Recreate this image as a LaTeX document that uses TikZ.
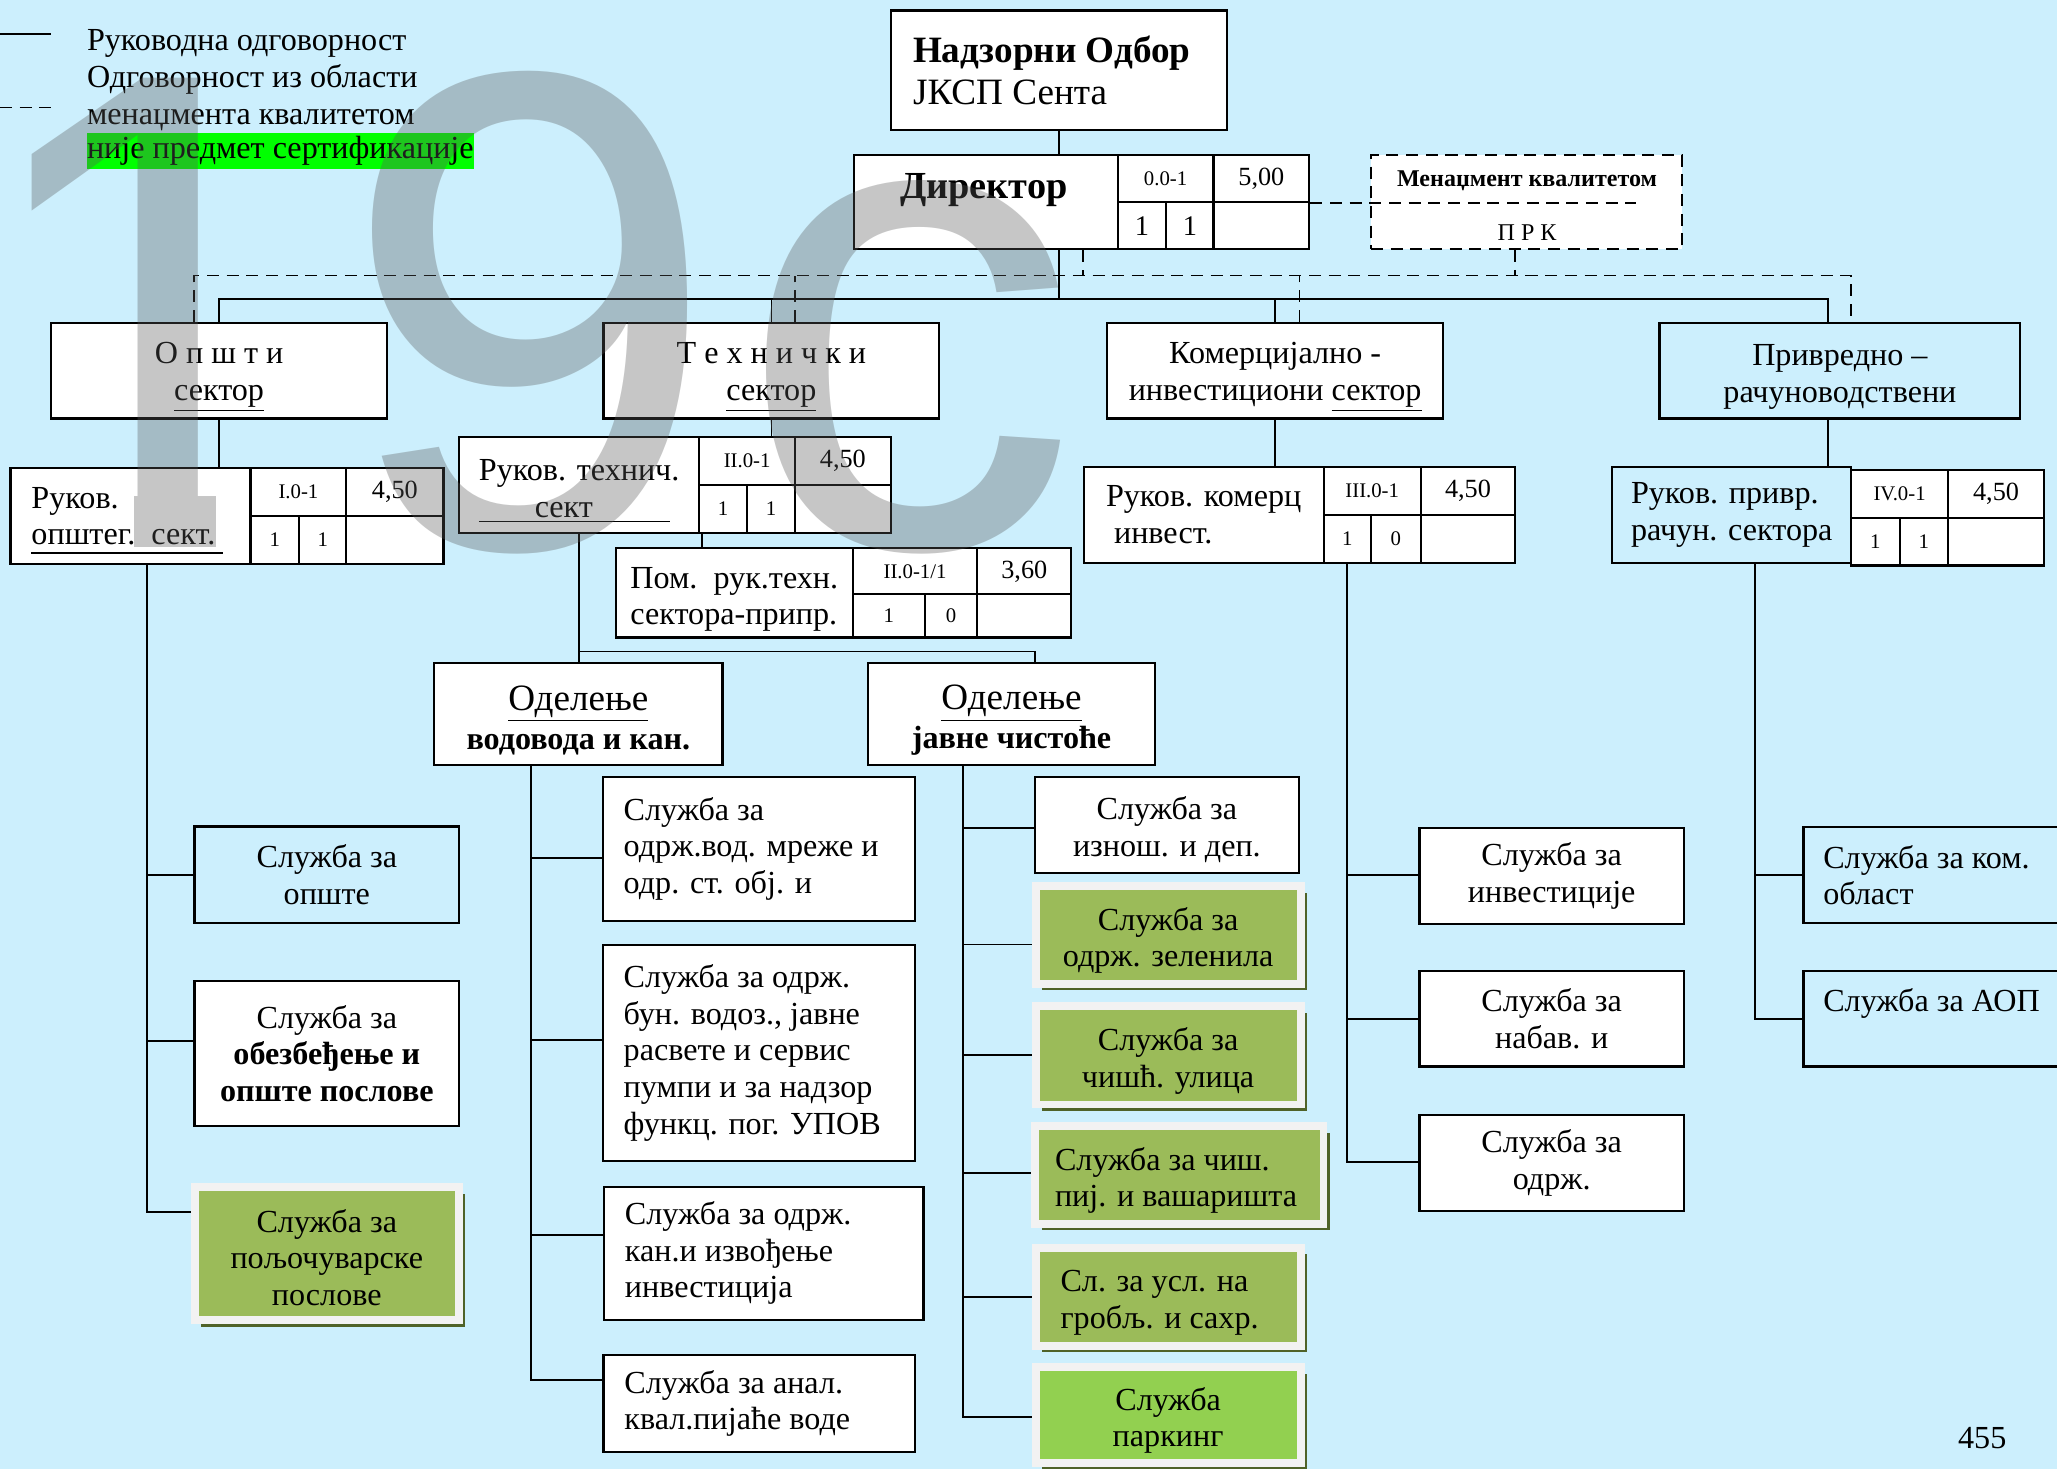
\documentclass[tikz,border=0pt]{standalone}
\usepackage{fontspec}
\setmainfont{Liberation Serif}
\newfontfamily\wmfamily{Liberation Sans}
\usetikzlibrary{shadows}
\definecolor{pagebg}{RGB}{204,239,253}
\definecolor{hlgreen}{RGB}{0,255,0}
\definecolor{olivefill}{RGB}{155,187,89}
\definecolor{limefill}{RGB}{146,208,80}
\definecolor{bevelgray}{RGB}{242,242,242}
\definecolor{shadowolive}{RGB}{79,98,40}
\newcommand\txtsz{\fontsize{14.7}{16.8}\selectfont}
\newcommand\hdsz{\fontsize{17}{19.2}\selectfont}
\newcommand\dirsz{\fontsize{17.5}{20}\selectfont}
\newcommand\cellsz{\fontsize{9.5}{11}\selectfont}
\newcommand\numsz{\fontsize{12}{14}\selectfont}
\newcommand\dirnum{\fontsize{13}{15}\selectfont}
\newcommand\qmsz{\fontsize{11}{13}\selectfont}
\newcommand\wmsz{\wmfamily\fontsize{312}{312}\selectfont}
\newcommand\tps{\rule{0pt}{15.5pt}}

\begin{document}
\begin{tikzpicture}[x=0.6pt,y=0.6pt,yscale=-1,xscale=1,
	bw/.style={minimum width=#1*0.6pt},
	bh/.style={minimum height=#1*0.6pt},
	box/.style={draw=black,line width=1pt,fill=white,inner sep=0pt,font=\txtsz,align=flush center},
	bluebox/.style={box,fill=pagebg},
	leftbox/.style={box,align=flush left},
	cell/.style={draw=black,line width=1pt,fill=white,inner sep=0pt,font=\cellsz},
	numcell/.style={cell,font=\numsz},
	greenbox/.style={box,fill=olivefill,draw=bevelgray,line width=3.6pt,drop shadow={shadow xshift=3pt,shadow yshift=-3pt,fill=shadowolive,opacity=1}},
	conn/.style={line width=0.8pt},
	dq/.style={line width=0.8pt,dash pattern=on 5.5pt off 3.5pt},
	wm/.style={inner sep=0pt,font=\wmsz,text=black!65,text opacity=0.34}]
		\useasboundingbox (0,0) rectangle (1568,1120);
		\fill[pagebg] (0,0) rectangle (1568,1120);

		%Straight Lines (legend)
		\draw[conn] (0,26) -- (39,26) ;
		\draw[dq] (0,82) -- (39,82) ;
		% Text Node
		\node[anchor=west,inner sep=0pt,align=flush left,font=\txtsz] (leg) at (66,61) {Руководна одговорност\\Одговорност из области\\менаџмента квалитетом};
		\node[anchor=west,inner xsep=0pt,inner ysep=0pt,minimum height=28*0.6pt,fill=hlgreen,font=\txtsz] (legcert) at (66,115) {није предмет сертификације};

		%Shape: Rectangle (top)
		\node[box,bw=256,bh=91,align=flush left,text width=133.2pt,inner xsep=10.2pt,font=\hdsz] (nadz) at (807,53.5) {\textbf{Надзорни Одбор}\\ЈКСП Сента};
		\node[box,bw=201,bh=72] (dirm) at (751.5,154) {};
		\node[inner sep=0pt,font=\dirsz\bfseries] (dirlbl) at (750,145) {Директор};
		\node[cell,bw=73,bh=36] (dc1) at (888.5,136) {0.0-1};
		\node[numcell,bw=73,bh=36] (dc2) at (961.5,136) {5,00};
		\node[cell,bw=37,bh=36,font=\dirnum] (dc3) at (870.5,172) {1};
		\node[cell,bw=36,bh=36,font=\dirnum] (dc4) at (907,172) {1};
		\node[cell,bw=73,bh=36] (dc5) at (961.5,172) {};
		\node[box,dq,bw=237,bh=72] (prk) at (1163.5,154) {};
		\node[inner sep=0pt,font=\qmsz\bfseries] (prkhd) at (1164,138) {Менаџмент квалитетом};
		\node[inner sep=0pt,font=\qmsz] (prklb) at (1164,177) {П Р К};

		%Shape: Rectangle (sectors)
		\node[box,bw=256,bh=73] (opsti) at (167,282.5) {\tps О п ш т и\\\underline{сектор}};
		\node[box,bw=256,bh=73] (tehn) at (588,282.5) {\tps Т е х н и ч к и\\\underline{сектор}};
		\node[box,bw=256,bh=73] (kom) at (972,282.5) {\tps Комерцијално -\\инвестициони \underline{сектор}};
		\node[bluebox,bw=275,bh=73] (privr) at (1402.5,282.5) {\tps Привредно –\\рачуноводствени};

		%Shape: Rectangle (heads)
		\node[leftbox,bw=183,bh=73,text width=90.6pt,inner xsep=9.6pt] (rukop) at (99.5,393.5) {Руков.\\општег.\ \ сект.};
		\node[cell,bw=73,bh=36.4] (op1) at (227.5,375.2) {I.0-1};
		\node[numcell,bw=74,bh=36.4] (op2) at (301,375.2) {4,50};
		\node[cell,bw=37,bh=36.6] (op3) at (209.5,411.7) {1};
		\node[cell,bw=36,bh=36.6] (op4) at (246,411.7) {1};
		\node[cell,bw=74,bh=36.6] (op5) at (301,411.7) {};
		\draw[conn] (24,421.7) -- (170,421.7) ;

		\node[box,bw=183,bh=73] (rukt) at (441.5,369.5) {\rule{0pt}{13pt}Руков. технич.\\сект\hspace*{14pt}};
		\node[cell,bw=73,bh=37] (t1) at (569.5,351.5) {II.0-1};
		\node[numcell,bw=73,bh=37] (t2) at (642.5,351.5) {4,50};
		\node[cell,bw=36.5,bh=36] (t3) at (551.25,388) {1};
		\node[cell,bw=36.5,bh=36] (t4) at (587.75,388) {1};
		\node[cell,bw=73,bh=36] (t5) at (642.5,388) {};
		\draw[conn] (365,397.6) -- (511,397.6) ;

		\node[leftbox,bw=180.5,bh=68] (pom) at (559.75,452) {\tps Пом.\ \ рук.техн.\\сектора-припр.};
		\node[cell,bw=95,bh=35] (p1) at (697.5,435.5) {II.0-1/1};
		\node[numcell,bw=71.6,bh=35] (p2) at (780.8,435.5) {3,60};
		\node[cell,bw=55,bh=33] (p3) at (677.5,469.5) {1};
		\node[cell,bw=40,bh=33] (p4) at (725,469.5) {0};
		\node[cell,bw=71.6,bh=33] (p5) at (780.8,469.5) {};

		\node[leftbox,bw=183,bh=73] (rukk) at (917.5,392.5) {Руков. комерц\\\ инвест.};
		\node[cell,bw=74,bh=36.6] (k1) at (1046,374.3) {III.0-1};
		\node[numcell,bw=72,bh=36.6] (k2) at (1119,374.3) {4,50};
		\node[cell,bw=36,bh=36.4] (k3) at (1027,410.8) {1};
		\node[cell,bw=38,bh=36.4] (k4) at (1064,410.8) {0};
		\node[cell,bw=72,bh=36.4] (k5) at (1119,410.8) {};

		\node[bluebox,align=flush left,bw=182,bh=73] (rukpr) at (1320,392.5) {Руков. привр.\\рачун. сектора};
		\node[cell,bw=74,bh=37] (r1) at (1448,376.5) {IV.0-1};
		\node[numcell,bw=73,bh=37] (r2) at (1521.5,376.5) {4,50};
		\node[cell,bw=37,bh=36] (r3) at (1429.5,413) {1};
		\node[cell,bw=37,bh=36] (r4) at (1466.5,413) {1};
		\node[cell,bw=73,bh=36] (r5) at (1521.5,413) {};

		%Shape: Rectangle (departments)
		\node[box,bw=219.7,bh=77.4] (odvod) at (440.85,544.3) {{\hdsz\rule{0pt}{17pt}\underline{Оделење}}\\[1pt]\textbf{водовода и кан.}};
		\node[box,bw=218.9,bh=77.4] (odjav) at (771.05,544.3) {{\hdsz\rule{0pt}{17pt}\underline{Оделење}}\\[1pt]\textbf{јавне чистоће}};

		%Shape: Rectangle (services)
		\node[bluebox,bw=201.7,bh=73.7] (so1) at (249.15,666.85) {Служба за\\опште};
		\node[box,bw=201.7,bh=110] (so2) at (249.15,803) {Служба за\\\textbf{обезбеђење и}\\\textbf{опште послове}};
		\node[greenbox,bw=201.45,bh=101.5] (so3) at (249.1,955.75) {\rule{0pt}{14pt}Служба за\\пољочуварске\\послове};

		\node[leftbox,bw=238.2,bh=110,text width=123.7pt,inner xsep=9.6pt] (sv1) at (578.5,647) {Служба за\\одрж.вод. мреже и\\одр. ст. обј. и};
		\node[leftbox,bw=238.2,bh=164.3,text width=123.7pt,inner xsep=9.6pt] (sv2) at (578.5,802.55) {Служба за одрж.\\бун. водоз., јавне\\расвете и сервис\\пумпи и за надзор\\функц. пог. УПОВ};
		\node[leftbox,bw=243.6,bh=101.5,text width=126.96pt,inner xsep=9.6pt] (sv3) at (582.2,955.25) {Служба за одрж.\\кан.и извођење\\инвестиција};
		\node[leftbox,bw=237.6,bh=73.5,text width=123.36pt,inner xsep=9.6pt] (sv4) at (578.8,1069.75) {Служба за анал.\\квал.пијаће воде};

		\node[box,bw=201,bh=73.7] (sj1) at (889.5,628.85) {\rule{0pt}{15pt}Служба за\\изнош. и деп.};
		\node[greenbox,bw=202,bh=74.4] (sj2) at (890.4,712.6) {\tps Служба за\\одрж. зеленила};
		\node[greenbox,bw=202,bh=75] (sj3) at (890.4,804.4) {\tps Служба за\\чишћ. улица};
		\node[greenbox,bw=219.7,bh=74.2,align=flush left,text width=113.8pt,inner xsep=9pt] (sj4) at (899.05,895.7) {\tps Служба за чиш.\\пиј. и вашаришта};
		\node[greenbox,bw=202,bh=74.5,align=flush left,text width=98.4pt,inner xsep=11.4pt] (sj5) at (890.4,988.5) {\tps Сл. за усл. на\\гробљ. и сахр.};
		\node[greenbox,fill=limefill,bw=202,bh=73] (sj6) at (890.4,1078.5) {\tps Служба\\паркинг};

		\node[box,bw=201.6,bh=73.3] (sk1) at (1182.8,667.65) {Служба за\\инвестиције};
		\node[box,bw=201.6,bh=73] (sk2) at (1182.8,776.5) {Служба за\\набав. и};
		\node[box,bw=201.6,bh=73] (sk3) at (1182.8,886.5) {Служба за\\одрж.};

		\node[bluebox,align=flush left,bw=205.2,bh=73.3,text width=105.1pt,inner xsep=9pt] (sp1) at (1477.4,667.05) {Служба за ком.\\област};
		\node[bluebox,align=flush left,bw=205.2,bh=73,text width=105.1pt,inner xsep=9pt] (sp2) at (1477.4,776.5) {Служба за АОП\\\mbox{}};

		% Text Node
		\node[inner sep=0pt,font=\txtsz] (pgno) at (1511,1096) {455};

		%Straight Lines (management)
		\coordinate (bus) at (0,228);
		\coordinate (dbus) at (0,210);
		\coordinate (jp) at (1393.5,228);
		\draw[conn] (nadz.south) -- (nadz.south |- dirm.north) ;
		\draw[conn] (nadz.south |- dirm.south) -- (nadz.south |- bus) ;
		\draw[conn] (opsti.north) |- (jp) -- (jp |- privr.north) ;
		\draw[conn] (tehn.north) -- (tehn.north |- bus) ;
		\draw[conn] (kom.north) -- (kom.north |- bus) ;

		%Straight Lines (quality)
		\draw[dq] (148,0 |- opsti.north) |- (1411,0 |- dbus) -- (1411,0 |- privr.north) ;
		\draw[dq] (606,0 |- tehn.north) -- (606,0 |- dbus) ;
		\draw[dq] (990.6,0 |- kom.north) -- (990.6,0 |- dbus) ;
		\draw[dq] (825.5,0 |- dirm.south) -- (825.5,0 |- dbus) ;
		\draw[dq] (1155,0 |- prk.south) -- (1155,0 |- dbus) ;
		\draw[dq] (dc2.south east) -- (1247,0 |- dc2.south east) ;

		%Straight Lines (sectors to heads)
		\draw[conn] (opsti.south) -- (opsti.south |- rukop.north) ;
		\draw[conn] (tehn.south) -- (tehn.south |- rukt.north) ;
		\draw[conn] (kom.south) -- (kom.south |- rukk.north) ;
		\draw[conn] (jp |- privr.south) -- (jp |- rukpr.north) ;
		\draw[conn] (535,0 |- rukt.south) -- (535,0 |- pom.north) ;
		\coordinate (odbus) at (0,496.7);
		\draw[conn] (rukt.south) -- (rukt.south |- odvod.north) ;
		\draw[conn] (rukt.south |- odbus) -| (789,0 |- odjav.north) ;

		%Straight Lines (trunks)
		\coordinate (tox) at (112,0);
		\draw[conn] (tox |- rukop.south) |- (so3.west |- 0,924) ;
		\draw[conn] (tox |- so1.west) -- (so1.west) ;
		\draw[conn] (tox |- 0,793.3) -- (so2.west |- 0,793.3) ;

		\coordinate (tvx) at (404.5,0);
		\draw[conn] (tvx |- odvod.south) |- (sv4.west |- 0,1052) ;
		\draw[conn] (tvx |- 0,654) -- (sv1.west |- 0,654) ;
		\draw[conn] (tvx |- 0,793) -- (sv2.west |- 0,793) ;
		\draw[conn] (tvx |- 0,941.5) -- (sv3.west |- 0,941.5) ;

		\coordinate (tjx) at (734,0);
		\draw[conn] (tjx |- odjav.south) |- (sj6.west |- 0,1080) ;
		\draw[conn] (tjx |- 0,631) -- (sj1.west |- 0,631) ;
		\draw[conn] (tjx |- 0,720) -- (sj2.west |- 0,720) ;
		\draw[conn] (tjx |- 0,804) -- (sj3.west |- 0,804) ;
		\draw[conn] (tjx |- 0,894) -- (sj4.west |- 0,894) ;
		\draw[conn] (tjx |- 0,988.7) -- (sj5.west |- 0,988.7) ;

		\coordinate (tkx) at (1026.5,0);
		\draw[conn] (tkx |- rukk.south) |- (sk3.west |- 0,886) ;
		\draw[conn] (tkx |- 0,667) -- (sk1.west |- 0,667) ;
		\draw[conn] (tkx |- 0,776.7) -- (sk2.west |- 0,776.7) ;

		\coordinate (tpx) at (1338,0);
		\draw[conn] (tpx |- rukpr.south) |- (sp2.west |- 0,776.7) ;
		\draw[conn] (tpx |- 0,667) -- (sp1.west |- 0,667) ;

		% Text Node (watermark)
		\begin{scope}
		\clip (-60,0) rectangle (262,378) (102,370) rectangle (164,430);
		\node[wm,anchor=base west] (wmone) at (-26,417) {1};
		\end{scope}
		\node[wm,anchor=base west] (wmnine) at (259,417) {9};
		\node[wm,anchor=base west] (wmc) at (562,417) {c};
\end{tikzpicture}
\end{document}
